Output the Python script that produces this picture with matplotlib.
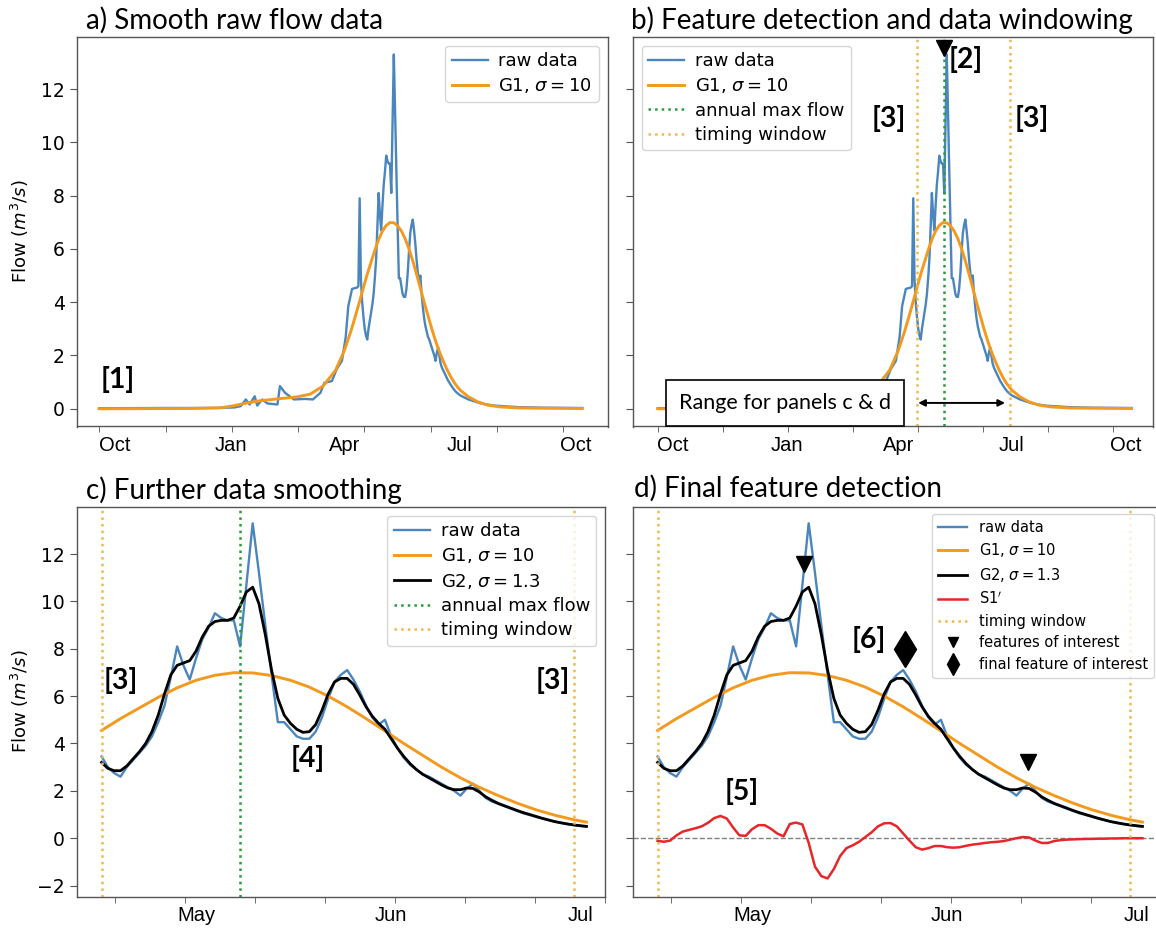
import matplotlib
matplotlib.use("Agg")
import numpy as np
import matplotlib.pyplot as plt

W, H = 1156, 936

# ------------------------------------------------------------
# Data (day counted from 1 Oct, so 1 May = day 212)
# ------------------------------------------------------------
MONTH_DAYS = [0, 92, 182, 273, 365]
MONTH_LABELS = ["Oct", "Jan", "Apr", "Jul", "Oct"]
ZOOM_MONTH_DAYS = [212, 243, 273]
ZOOM_MONTH_LABELS = ["May", "Jun", "Jul"]

WINDOW_START = 197
WINDOW_END = 272
MAX_FLOW_DAY = 219

# raw daily flow before the window (sparse where flat)
RAW_PRE_DAY = [-12, 40, 80, 95, 100, 104, 107, 111, 113, 117, 121, 129, 131, 135,
               142, 151, 157, 163, 166, 172, 176, 180, 183, 185, 188, 192, 193,
               194, 195, 196]
RAW_PRE_FLOW = [0.02, 0.03, 0.03, 0.05, 0.1, 0.35, 0.16, 0.47, 0.12, 0.35, 0.2, 0.16,
                0.85, 0.6, 0.35, 0.37, 0.35, 0.6, 0.97, 1.04, 1.5, 1.8, 2.7, 3.85,
                4.5, 4.55, 4.6, 7.9, 4.85, 4.0]

# raw daily flow inside the window, day 197 .. 274
RAW_WIN_FLOW = [3.45, 3.0, 2.75, 2.6, 3.0, 3.3, 3.6, 3.9, 4.3, 4.9, 5.6, 6.8, 8.1, 7.3, 6.7,
                7.6, 8.4, 8.9, 9.5, 9.3, 9.2, 9.2, 8.1, 10.7, 13.3,
                11.2, 9.0, 6.9, 4.9, 4.9, 4.6, 4.3, 4.2, 4.2, 4.5,
                5.1, 5.9, 6.6, 6.9, 7.1, 6.7, 6.2, 5.6, 5.1, 4.8,
                5.0, 4.3, 3.8, 3.4, 3.1, 2.9, 2.7, 2.6, 2.45, 2.3,
                2.15, 2.0, 1.8, 2.1, 2.3, 2.0, 1.7, 1.55, 1.45, 1.35,
                1.25, 1.15, 1.05, 0.98, 0.9, 0.83, 0.76, 0.7, 0.64, 0.6,
                0.56, 0.52, 0.49]

RAW_POST_DAY = [280, 290, 300, 320, 340, 370]
RAW_POST_FLOW = [0.35, 0.2, 0.12, 0.06, 0.04, 0.03]

# G1 (sigma = 10) smoothed flow
G1_DAY = [-12, 60, 85, 95, 105, 115, 125, 135, 145, 155, 165, 175, 182, 187, 192,
          197, 200, 203, 206, 209, 212, 215, 218, 221, 224, 227, 230, 233, 236, 239,
          242, 245, 248, 251, 254, 257, 260, 263, 266, 269, 272, 274,
          280, 287, 295, 305, 320, 340, 370]
G1_FLOW = [0.0, 0.01, 0.04, 0.12, 0.22, 0.3, 0.35, 0.4, 0.45, 0.55, 0.85, 1.45, 2.2, 2.9, 3.7,
           4.55, 5.05, 5.5, 5.95, 6.35, 6.67, 6.88, 6.99, 6.98, 6.87, 6.67, 6.38, 6.0, 5.55, 5.05,
           4.53, 4.0, 3.5, 3.0, 2.55, 2.15, 1.8, 1.48, 1.2, 0.97, 0.78, 0.68,
           0.45, 0.27, 0.14, 0.07, 0.03, 0.02, 0.01]

# G2 (sigma = 1.3) smoothed flow, day 197 .. 274
G2_FLOW = [3.2, 2.95, 2.85, 2.85, 3.05, 3.35, 3.65, 4.0, 4.5, 5.2, 6.1, 6.9, 7.3, 7.4, 7.5,
           7.9, 8.5, 8.95, 9.15, 9.2, 9.2, 9.3, 9.8, 10.4, 10.6,
           9.9, 8.6, 7.1, 5.9, 5.2, 4.85, 4.6, 4.47, 4.5, 4.8,
           5.4, 6.1, 6.6, 6.75, 6.75, 6.5, 6.05, 5.55, 5.15, 4.85,
           4.6, 4.2, 3.8, 3.45, 3.15, 2.9, 2.7, 2.55, 2.4, 2.25,
           2.12, 2.05, 2.05, 2.12, 2.1, 1.95, 1.75, 1.6, 1.47, 1.37,
           1.27, 1.17, 1.08, 1.0, 0.92, 0.84, 0.77, 0.7, 0.65, 0.6,
           0.56, 0.53, 0.5]

# S1' (first derivative of G2), day 197 .. 274
S1_FLOW = [-0.11, -0.15, -0.1, 0.12, 0.28, 0.35, 0.42, 0.5, 0.65, 0.85, 0.94, 0.83, 0.45, 0.12, 0.1,
           0.38, 0.55, 0.55, 0.4, 0.2, 0.08, 0.6, 0.66, 0.58, -0.2,
           -1.2, -1.6, -1.7, -1.3, -0.75, -0.42, -0.3, -0.15, 0.05, 0.25,
           0.5, 0.63, 0.64, 0.5, 0.2, -0.1, -0.38, -0.48, -0.42, -0.33,
           -0.33, -0.38, -0.4, -0.38, -0.32, -0.27, -0.24, -0.2, -0.17, -0.15,
           -0.12, -0.06, 0.0, 0.05, 0.03, -0.1, -0.2, -0.2, -0.12, -0.08,
           -0.06, -0.05, -0.04, -0.03, -0.03, -0.02, -0.02, -0.01, -0.01, 0.0,
           0.0, 0.0, 0.0]

# detected features (day, marker height)
FEATURE_DAYS = [220.3, 255.8]
FEATURE_Y = [11.6, 3.2]
FINAL_DAY = 236.3
FINAL_Y = 8.0
MAX_MARK_Y = 13.55

win_day = np.arange(WINDOW_START, WINDOW_START + len(RAW_WIN_FLOW))
raw_day = np.concatenate([RAW_PRE_DAY, win_day, RAW_POST_DAY])
raw_flow = np.concatenate([RAW_PRE_FLOW, RAW_WIN_FLOW, RAW_POST_FLOW])
g1_day = np.array(G1_DAY)
g1_flow = np.array(G1_FLOW)

C_RAW = "#4a86bd"
C_G1 = "#f39a1e"
C_WIN = "#f2b84b"
C_MAX = "#2a9a3a"
C_S1 = "#e8262a"
C_SPINE = "#555555"

TITLE_FONT = dict(family="Lato", fontsize=20)
TAG_FONT = dict(family="Lato", fontsize=20.5, fontweight="bold")
LEG_KW = dict(fontsize=13, labelspacing=0.35, handletextpad=0.6, borderpad=0.35,
              borderaxespad=0.5)
LEG_LABELS = {
    "raw": "raw data",
    "g1": r"G1, $\sigma = 10$",
    "g2": r"G2, $\sigma = 1.3$",
}


def rect(l, t, r, b):
    return [l / W, 1 - b / H, (r - l) / W, (b - t) / H]


def style_axes(ax, month_days, month_labels, minor_ticks, yticks, ylabels=True):
    for s in ax.spines.values():
        s.set_color(C_SPINE)
        s.set_linewidth(1.0)
    ax.set_xticks(month_days)
    ax.set_xticklabels(month_labels, family="Liberation Sans", fontsize=14.5)
    ax.set_xticks(minor_ticks, minor=True)
    ax.tick_params(axis="x", which="major", length=0, pad=7)
    ax.tick_params(axis="x", which="minor", length=4, color=C_SPINE)
    ax.set_yticks(yticks)
    ax.tick_params(axis="y", length=5, color=C_SPINE, labelsize=13.5)
    if not ylabels:
        ax.set_yticklabels([])


fig = plt.figure(figsize=(W / 100, H / 100), dpi=100)

ax_a = fig.add_axes(rect(76.7, 36.7, 607.7, 426.5))
ax_b = fig.add_axes(rect(632.6, 36.7, 1153, 426.5))
ax_c = fig.add_axes(rect(76.7, 506.7, 605.3, 896.7))
ax_d = fig.add_axes(rect(632.7, 506.7, 1161.3, 896.7))

full_minor = [-11.8 + 52.4 * k for k in range(8)]
zoom_minor = [199.2 + 11.1 * k for k in range(8)]

# ---- a) ----
ax_a.plot(raw_day, raw_flow, color=C_RAW, lw=1.7, label=LEG_LABELS["raw"])
ax_a.plot(g1_day, g1_flow, color=C_G1, lw=2.1, label=LEG_LABELS["g1"])
ax_a.set_xlim(-29.7, 390.1)
ax_a.set_ylim(-0.665, 13.965)
style_axes(ax_a, MONTH_DAYS, MONTH_LABELS, full_minor, range(0, 13, 2))
ax_a.set_ylabel(r"Flow ($m^3/s$)", fontsize=13)
ax_a.yaxis.set_label_coords(-0.087, 0.5)
ax_a.legend(loc="upper right", **LEG_KW)
ax_a.text(2.5, 1.09, "[1]", ha="center", va="center", **TAG_FONT)

# ---- b) ----
ax_b.plot(raw_day, raw_flow, color=C_RAW, lw=1.7, label=LEG_LABELS["raw"])
ax_b.plot(g1_day, g1_flow, color=C_G1, lw=2.1, label=LEG_LABELS["g1"])
ax_b.axvline(MAX_FLOW_DAY, color=C_MAX, ls=":", lw=1.8, label="annual max flow")
ax_b.axvline(WINDOW_START, color=C_WIN, ls=":", lw=1.8, label="timing window")
ax_b.axvline(WINDOW_END, color=C_WIN, ls=":", lw=1.8)
ax_b.plot([MAX_FLOW_DAY], [MAX_MARK_Y], marker="v", color="black", ms=12,
          ls="none", clip_on=False)
ax_b.set_xlim(-32.3, 387.3)
ax_b.set_ylim(-0.665, 13.965)
style_axes(ax_b, MONTH_DAYS, MONTH_LABELS, full_minor, range(0, 13, 2), ylabels=False)
ax_b.legend(loc="upper left", **LEG_KW)
ax_b.text(236.5, 13.1, "[2]", ha="center", va="center", **TAG_FONT)
ax_b.text(174.4, 10.88, "[3]", ha="center", va="center", **TAG_FONT)
ax_b.text(289.8, 10.88, "[3]", ha="center", va="center", **TAG_FONT)
ax_b.text(90.4, 0.22, "Range for panels c & d", ha="center", va="center",
          family="Lato", fontsize=15.5,
          bbox=dict(boxstyle="square,pad=0.6", fc="white", ec="black", lw=1.2))
ax_b.annotate("", xy=(WINDOW_END - 4, 0.22), xytext=(WINDOW_START + 1, 0.22),
              arrowprops=dict(arrowstyle="<|-|>", color="black", lw=1.4,
                              mutation_scale=10, shrinkA=0, shrinkB=0))

# ---- c) and d) ----
in_win = (raw_day >= WINDOW_START) & (raw_day <= win_day[-1])
g1_win = (g1_day >= WINDOW_START) & (g1_day <= win_day[-1])

for ax in (ax_c, ax_d):
    ax.plot(raw_day[in_win], raw_flow[in_win], color=C_RAW, lw=1.7, label=LEG_LABELS["raw"])
    ax.plot(g1_day[g1_win], g1_flow[g1_win], color=C_G1, lw=2.1, label=LEG_LABELS["g1"])
    ax.plot(win_day, G2_FLOW, color="black", lw=2.0, label=LEG_LABELS["g2"])
    ax.set_xlim(193.05, 277.0)
    ax.set_ylim(-2.47, 14.0)

ax_c.axvline(MAX_FLOW_DAY, color=C_MAX, ls=":", lw=1.8, label="annual max flow")
ax_c.axvline(WINDOW_START, color=C_WIN, ls=":", lw=1.8, label="timing window")
ax_c.axvline(WINDOW_END, color=C_WIN, ls=":", lw=1.8)
style_axes(ax_c, ZOOM_MONTH_DAYS, ZOOM_MONTH_LABELS, zoom_minor, range(-2, 13, 2))
ax_c.set_ylabel(r"Flow ($m^3/s$)", fontsize=13)
ax_c.yaxis.set_label_coords(-0.087, 0.5)
ax_c.legend(loc="upper right", **LEG_KW)
ax_c.text(200.1, 6.65, "[3]", ha="center", va="center", **TAG_FONT)
ax_c.text(268.6, 6.65, "[3]", ha="center", va="center", **TAG_FONT)
ax_c.text(229.8, 3.35, "[4]", ha="center", va="center", **TAG_FONT)

ax_d.plot(win_day, S1_FLOW, color=C_S1, lw=1.8, label="S1$'$")
ax_d.axhline(0, color="gray", ls="--", lw=1.0, zorder=0)
ax_d.axvline(WINDOW_START, color=C_WIN, ls=":", lw=1.8, label="timing window")
ax_d.axvline(WINDOW_END, color=C_WIN, ls=":", lw=1.8)
ax_d.plot(FEATURE_DAYS, FEATURE_Y, marker="v", color="black", ms=12, ls="none",
          label="features of interest")
ax_d.plot([FINAL_DAY], [FINAL_Y], marker="d", color="black", ms=18, ls="none",
          label="final feature of interest")
style_axes(ax_d, ZOOM_MONTH_DAYS, ZOOM_MONTH_LABELS, zoom_minor, range(-2, 13, 2),
           ylabels=False)
ax_d.legend(loc="upper right", fontsize=10.5, labelspacing=0.45, borderaxespad=0.5,
            markerscale=0.6)
ax_d.text(210.4, 1.96, "[5]", ha="center", va="center", **TAG_FONT)
ax_d.text(230.6, 8.38, "[6]", ha="center", va="center", **TAG_FONT)

# ---- titles ----
fig.text(86 / W, 1 - 20 / H, "a) Smooth raw flow data", ha="left", va="center", **TITLE_FONT)
fig.text(631 / W, 1 - 20 / H, "b) Feature detection and data windowing", ha="left",
         va="center", **TITLE_FONT)
fig.text(86 / W, 1 - 490 / H, "c) Further data smoothing", ha="left", va="center",
         **TITLE_FONT)
fig.text(634 / W, 1 - 488 / H, "d) Final feature detection", ha="left", va="center",
         **TITLE_FONT)

fig.savefig("out.png", dpi=100)
